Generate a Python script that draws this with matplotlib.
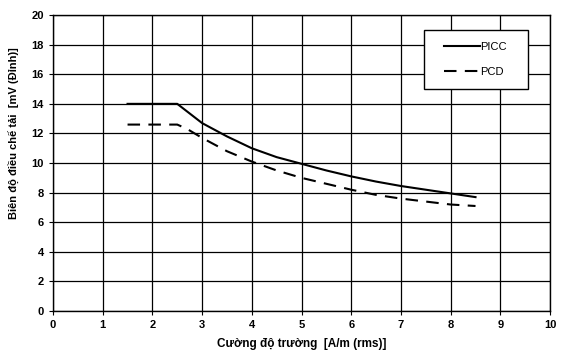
import matplotlib.pyplot as plt
from matplotlib.patches import Rectangle
import numpy as np

plt.rcParams['font.family'] = ['Liberation Sans', 'DejaVu Sans']

# PICC curve (solid)
picc_x = [1.5, 2.5, 3.0, 3.5, 4.0, 4.5, 5.0, 5.5, 6.0, 6.5, 7.0, 7.5, 8.0, 8.5]
picc_y = [14.0, 14.0, 12.7, 11.8, 11.0, 10.4, 9.95, 9.5, 9.1, 8.75, 8.45, 8.2, 7.95, 7.7]

# PCD curve (dashed)
pcd_x = [1.5, 2.5, 2.7, 3.0, 3.5, 4.0, 4.5, 5.0, 5.5, 6.0, 6.5, 7.0, 7.5, 8.0, 8.5]
pcd_y = [12.6, 12.6, 12.3, 11.7, 10.8, 10.1, 9.5, 9.0, 8.6, 8.2, 7.85, 7.6, 7.4, 7.2, 7.1]

fig = plt.figure(figsize=(5.76, 3.58), dpi=100)
ax = fig.add_axes([0.092, 0.131, 0.863, 0.827])

ax.plot(picc_x, picc_y, color='black', linewidth=1.5, label='PICC')
ax.plot(pcd_x, pcd_y, color='black', linewidth=1.5, linestyle=(0, (6, 4)), label='PCD')

ax.set_xlim(0, 10)
ax.set_ylim(0, 20)
ax.set_xticks(np.arange(0, 11, 1))
ax.set_yticks(np.arange(0, 21, 2))
ax.grid(True, color='black', linewidth=0.9)
ax.tick_params(labelsize=8, length=3, colors='black')
for lbl in ax.get_xticklabels() + ax.get_yticklabels():
    lbl.set_fontweight('bold')
for s in ax.spines.values():
    s.set_linewidth(1.0)

ax.set_xlabel('Cường độ trường  [A/m (rms)]', fontsize=8.5, fontweight='bold', labelpad=6)
ax.set_ylabel('Biên độ điều chế tải  [mV (Đỉnh)]', fontsize=8, fontweight='bold')
ax.yaxis.set_label_coords(-0.068, 0.6)

# legend box drawn separately so its padding matches the original
box = Rectangle((0.747, 0.75), 0.208, 0.2, transform=ax.transAxes,
                facecolor='white', edgecolor='black', linewidth=1.0, zorder=5)
ax.add_patch(box)
leg = ax.legend(loc='center left', bbox_to_anchor=(0.787, 0.85), fontsize=8,
                frameon=False, handlelength=3.2, handletextpad=0.05,
                labelspacing=1.4, borderpad=0, borderaxespad=0)
leg.set_zorder(6)

fig.savefig('out.png', dpi=100)
